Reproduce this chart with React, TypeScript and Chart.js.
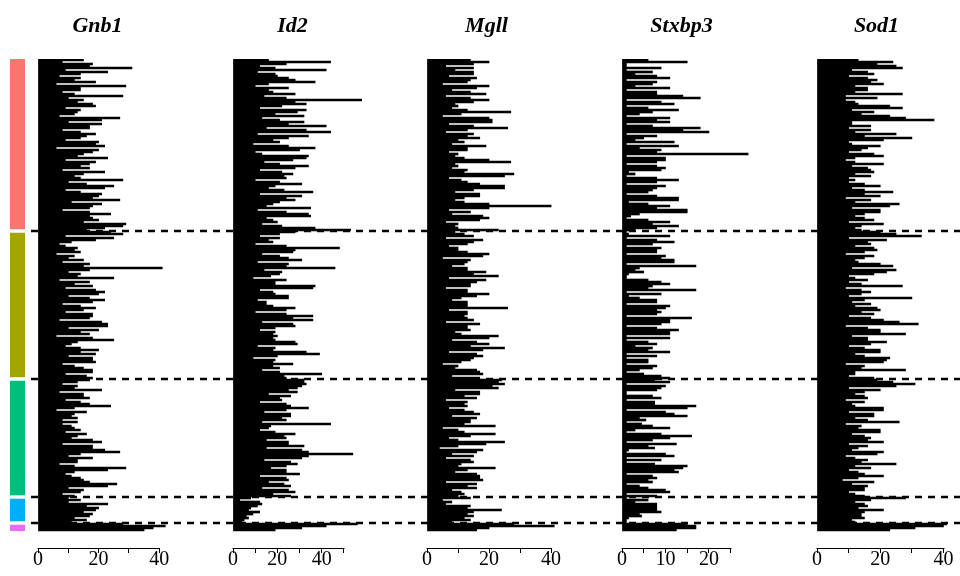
import { useEffect, useRef } from "react";
import { Chart, registerables } from "chart.js";

Chart.register(...registerables);

const genes = ["Gnb1", "Id2", "Mgll", "Stxbp3", "Sod1"];
const groupSizes = [86, 74, 59, 13, 4];
const groupColors = ["#F8766D", "#A3A500", "#00BF7D", "#00B0F6", "#E76BF3"];
const axisMax = [42.9, 58.6, 41.9, 29.9, 41.1];
const tickStep = [10, 10, 10, 5, 10];

const gnb1 = [
  15, 8, 18, 17, 31, 9, 23, 14, 7, 14,
  12, 19, 6, 29, 14, 14, 8, 12, 28, 10,
  15, 13, 18, 19, 9, 14, 13, 12, 7, 27,
  21, 10, 21, 17, 17, 8, 14, 19, 16, 14,
  9, 20, 19, 22, 6, 20, 18, 15, 13, 23,
  9, 19, 17, 14, 17, 8, 22, 15, 12, 14,
  28, 10, 16, 25, 22, 9, 14, 21, 20, 18,
  27, 11, 21, 18, 17, 8, 17, 24, 17, 18,
  20, 15, 29, 28, 22, 16,
  24, 28, 9, 25, 19, 11, 7, 9, 13, 12,
  14, 6, 12, 10, 15, 8, 17, 15, 41, 17,
  10, 14, 13, 25, 7, 17, 12, 18, 9, 19,
  22, 20, 10, 17, 22, 18, 8, 14, 19, 15,
  9, 18, 18, 17, 7, 21, 23, 23, 10, 20,
  14, 17, 6, 18, 25, 13, 11, 9, 14, 20,
  14, 19, 10, 18, 18, 19, 8, 12, 15, 18,
  18, 9, 16, 18,
  17, 13, 8, 13, 12, 21, 7, 15, 15, 17,
  9, 14, 17, 24, 12, 6, 16, 12, 11, 13,
  8, 13, 8, 11, 12, 14, 9, 16, 13, 11,
  18, 21, 8, 18, 18, 22, 27, 14, 10, 18,
  13, 13, 7, 12, 29, 23, 12, 9, 11, 14,
  15, 17, 26, 23, 10, 15, 14, 8, 12,
  10, 14, 10, 23, 16, 20, 19, 15, 18, 17, 12, 16, 11,
  28, 42, 38, 35,
];

const id2 = [
  16, 44, 24, 12, 19, 42, 11, 19, 20, 25,
  28, 37, 16, 10, 25, 16, 18, 28, 14, 24,
  58, 28, 33, 22, 12, 33, 29, 19, 32, 13,
  21, 32, 25, 42, 15, 33, 44, 11, 34, 25,
  18, 21, 9, 25, 37, 30, 10, 13, 34, 33,
  27, 14, 21, 34, 28, 12, 22, 27, 23, 24,
  10, 21, 31, 19, 16, 23, 36, 12, 31, 24,
  28, 21, 18, 15, 35, 11, 24, 34, 35, 15,
  18, 20, 13, 22, 37, 53,
  28, 21, 12, 21, 16, 18, 10, 24, 48, 28,
  27, 13, 21, 25, 31, 11, 25, 24, 46, 14,
  22, 21, 17, 9, 24, 19, 19, 37, 36, 12,
  18, 19, 25, 25, 11, 15, 15, 18, 28, 24,
  10, 24, 36, 27, 36, 13, 27, 28, 19, 12,
  19, 18, 20, 18, 19, 28, 29, 11, 19, 18,
  33, 39, 20, 9, 19, 18, 27, 18, 21, 13,
  21, 40, 23, 24,
  32, 32, 33, 31, 29, 25, 29, 16, 26, 21,
  22, 12, 24, 26, 34, 24, 14, 26, 26, 22,
  24, 13, 44, 17, 16, 12, 19, 28, 23, 24,
  15, 25, 25, 32, 15, 31, 34, 54, 34, 31,
  14, 26, 29, 24, 17, 24, 24, 30, 12, 24,
  25, 16, 23, 26, 13, 25, 28, 18, 26,
  8, 3, 12, 13, 11, 8, 7, 12, 9, 6, 7, 5, 4,
  56, 42, 31, 19,
];

const mgll = [
  14, 20, 15, 6, 15, 9, 15, 15, 7, 16,
  14, 13, 5, 20, 16, 8, 14, 19, 6, 14,
  20, 15, 9, 10, 8, 13, 27, 11, 5, 20,
  21, 21, 7, 15, 26, 13, 6, 15, 13, 17,
  10, 12, 8, 19, 13, 13, 7, 10, 9, 12,
  20, 27, 9, 10, 8, 13, 12, 28, 25, 7,
  11, 13, 17, 25, 25, 15, 9, 17, 17, 12,
  9, 12, 20, 40, 20, 7, 14, 8, 18, 20,
  17, 6, 10, 9, 10, 23,
  9, 12, 15, 6, 18, 15, 13, 7, 10, 10,
  13, 20, 18, 5, 14, 13, 12, 8, 13, 13,
  19, 15, 23, 7, 19, 16, 14, 14, 6, 13,
  13, 20, 16, 11, 8, 13, 13, 13, 26, 7,
  13, 13, 12, 13, 15, 6, 17, 13, 13, 14,
  9, 11, 23, 20, 8, 16, 20, 14, 25, 18,
  7, 16, 18, 15, 14, 11, 5, 10, 9, 16,
  17, 18, 8, 17,
  24, 23, 25, 21, 23, 9, 17, 17, 12, 16,
  6, 13, 12, 13, 7, 12, 15, 17, 8, 16,
  14, 14, 12, 22, 5, 10, 12, 22, 14, 7,
  10, 25, 19, 10, 4, 18, 16, 8, 15, 6,
  14, 15, 11, 10, 22, 13, 9, 16, 17, 17,
  18, 6, 16, 13, 16, 8, 11, 12, 10,
  14, 5, 8, 6, 14, 13, 24, 15, 13, 15, 12, 14, 8,
  28, 41, 20, 16,
];

const stxbp3 = [
  6, 15, 1, 1, 9, 1, 7, 3, 8, 11,
  1, 8, 7, 3, 11, 1, 8, 8, 14, 18,
  1, 9, 12, 1, 6, 13, 7, 4, 1, 11,
  8, 11, 1, 7, 18, 14, 20, 1, 8, 5,
  3, 12, 1, 13, 4, 9, 8, 29, 1, 10,
  10, 8, 1, 8, 10, 9, 1.5, 3, 1, 8,
  13, 8, 1, 10, 8, 7, 6, 1, 8, 13,
  13, 1.5, 6, 11, 8, 15, 15, 4, 2, 1,
  6, 11, 7, 13, 8, 3,
  1, 1.5, 11, 1, 8, 12, 7, 1, 9, 8,
  8, 1, 10, 9, 12, 12, 1, 17, 4, 3,
  5, 1.5, 1, 1, 6, 9, 11, 7, 6, 17,
  1, 9, 1.5, 4, 8, 8, 1, 11, 10, 8,
  9, 8, 1, 16, 11, 11, 9, 1, 8, 13,
  11, 11, 1, 11, 1, 6, 8, 3, 7, 6,
  11, 1, 8, 1, 6, 6, 1, 8, 7, 4,
  1, 5, 9, 11,
  7.5, 11, 1, 10, 9, 8, 1, 1, 7, 9,
  1, 7.5, 7.5, 17, 15, 1, 10, 12, 15, 4,
  5.5, 1, 4.5, 7, 11, 3, 1, 9, 16, 11,
  7, 1, 12.5, 6, 7.5, 1.5, 1, 10, 12, 1,
  9, 1, 7.5, 15, 14, 12, 13, 1, 7, 8,
  6, 7, 1, 4, 6, 10, 11, 1, 8,
  1, 6, 3, 8, 8, 8, 8, 9, 4, 4.5, 1.5, 1, 1,
  15, 17, 17, 12.5,
];

const sod1 = [
  13, 24, 19, 25, 27, 11, 16, 18, 10, 16,
  19, 17, 21, 12, 16, 16, 12, 27, 9, 19,
  9, 12, 13, 23, 27, 11, 18, 14, 23, 28,
  37, 11, 11, 17, 10, 17, 12, 25, 15, 30,
  21, 10, 11, 20, 16, 14, 10, 18, 21, 12,
  9, 12, 21, 11, 16, 17, 18, 12, 17, 10,
  12, 10, 15, 20, 11, 15, 24, 15, 20, 9,
  17, 12, 26, 23, 11, 20, 20, 15, 12, 15,
  18, 10, 21, 14, 12, 14,
  20, 25, 33, 10, 22, 16, 17, 12, 18, 19,
  15, 9, 18, 15, 12, 13, 20, 24, 11, 25,
  22, 18, 10, 12, 16, 10, 14, 27, 9, 14,
  17, 14, 10, 30, 15, 11, 17, 12, 19, 20,
  14, 18, 10, 17, 21, 26, 32, 9, 16, 20,
  20, 28, 11, 16, 16, 22, 17, 10, 15, 20,
  20, 12, 15, 23, 22, 21, 9, 15, 14, 28,
  12, 12, 10, 18,
  19, 24, 31, 25, 10, 20, 15, 12, 15, 16,
  9, 15, 11, 12, 21, 21, 10, 18, 18, 12,
  16, 26, 9, 14, 13, 20, 20, 11, 15, 17,
  16, 21, 10, 16, 13, 11, 21, 19, 9, 12,
  16, 14, 25, 12, 17, 10, 13, 15, 21, 13,
  8, 18, 11, 16, 15, 15, 10, 12, 15,
  28, 17, 12, 15, 16, 13, 21, 15, 14, 14, 15, 11, 12,
  41, 40, 31, 23,
];

const geneValues = [gnb1, id2, mgll, stxbp3, sod1];

const PANEL_LEFT = [0, 195, 389, 584, 779];
const PANEL_W = 196;
const H = 576;
const DASH = [7, 6];
const DASH_START = 31;

function boundaries(): number[] {
  const out: number[] = [];
  let acc = 0;
  for (let g = 0; g < groupSizes.length - 1; g++) {
    acc += groupSizes[g];
    out.push(acc);
  }
  return out;
}

function Panel({ index }: { index: number }) {
  const ref = useRef<HTMLCanvasElement | null>(null);
  useEffect(() => {
    if (!ref.current) return;
    const values = geneValues[index];
    const step = tickStep[index];
    const left = PANEL_LEFT[index];
    const bounds = boundaries();
    const total = groupSizes.reduce((a, b) => a + b, 0);

    const dashPlugin = {
      id: "groupDash",
      afterDatasetsDraw(chart: any) {
        const ctx = chart.ctx;
        const ys = chart.scales.y;
        const x0 = index === 0 ? DASH_START : 0;
        const period = DASH[0] + DASH[1];
        ctx.save();
        ctx.strokeStyle = "#000";
        ctx.lineWidth = 2.5;
        ctx.setLineDash(DASH);
        ctx.lineDashOffset = (((left + x0 - DASH_START) % period) + period) % period;
        for (const b of bounds) {
          const y = ys.getPixelForValue(b - 0.5);
          ctx.beginPath();
          ctx.moveTo(x0, y);
          ctx.lineTo(chart.width, y);
          ctx.stroke();
        }
        ctx.restore();
      },
    };

    const axisPlugin = {
      id: "axisLine",
      afterDraw(chart: any) {
        const ctx = chart.ctx;
        const xs = chart.scales.x;
        const ticks = xs.ticks;
        if (!ticks.length) return;
        const y = Math.round(xs.top) + 0.5;
        const a = Math.round(xs.getPixelForValue(ticks[0].value)) - 0.5;
        const b = Math.round(xs.getPixelForValue(ticks[ticks.length - 1].value)) + 0.5;
        ctx.save();
        ctx.strokeStyle = "#000";
        ctx.lineWidth = 1;
        ctx.beginPath();
        ctx.moveTo(a, y);
        ctx.lineTo(b, y);
        ctx.stroke();
        ctx.restore();
      },
    };

    const chart = new Chart(ref.current, {
      type: "bar",
      data: {
        datasets: [
          {
            data: values.map((v, i) => ({ x: v, y: i })),
            backgroundColor: "#000",
            borderWidth: 0,
            barPercentage: 1,
            categoryPercentage: 1,
          },
        ],
      },
      options: {
        indexAxis: "y",
        responsive: false,
        animation: false,
        events: [],
        layout: { padding: { left: 27, right: 28, top: 0, bottom: 9 } },
        plugins: {
          legend: { display: false },
          tooltip: { enabled: false },
          title: {
            display: true,
            text: genes[index],
            color: "#000",
            font: { family: "Liberation Serif", size: 22, weight: "bold", style: "italic", lineHeight: 1 },
            padding: { top: 15, bottom: 22 },
          },
        },
        scales: {
          x: {
            type: "linear",
            position: "bottom",
            min: 0,
            max: axisMax[index],
            ticks: {
              stepSize: step,
              includeBounds: false,
              autoSkip: false,
              maxRotation: 0,
              padding: -3,
              color: "#000",
              font: { family: "Liberation Serif", size: 20, lineHeight: 1 },
              callback: (v: any) => (Number(v) % (2 * step) === 0 ? String(v) : ""),
            },
            grid: { display: true, drawOnChartArea: false, drawTicks: true, tickLength: 5, color: "#000", lineWidth: 1 },
            border: { display: false },
          },
          y: {
            type: "linear",
            min: -0.5,
            max: total - 0.5 + 8.5,
            reverse: true,
            offset: false,
            ticks: { display: false },
            grid: { display: false, offset: false },
            border: { display: false },
            afterFit: (s: any) => {
              s.width = 11;
            },
          },
        },
      } as any,
      plugins: [dashPlugin, axisPlugin],
    });
    return () => chart.destroy();
  }, [index]);

  return (
    <canvas
      ref={ref}
      width={PANEL_W}
      height={H}
      style={{ position: "absolute", left: PANEL_LEFT[index], top: 0, width: PANEL_W, height: H }}
    />
  );
}

function GroupBar() {
  const ref = useRef<HTMLCanvasElement | null>(null);
  useEffect(() => {
    if (!ref.current) return;
    const total = groupSizes.reduce((a, b) => a + b, 0);
    const gap = 1.7;
    const chart = new Chart(ref.current, {
      type: "bar",
      data: {
        labels: ["cells"],
        datasets: groupSizes.map((n, g) => ({
          data: [n],
          backgroundColor: groupColors[g],
          borderColor: "#fff",
          borderSkipped: false,
          borderWidth: {
            top: g === 0 ? 0 : gap,
            bottom: g === groupSizes.length - 1 ? 0 : gap,
            left: 0,
            right: 0,
          },
          barPercentage: 1,
          categoryPercentage: 1,
          inflateAmount: 0,
        })),
      },
      options: {
        responsive: false,
        animation: false,
        events: [],
        layout: { padding: { left: 10, right: 5, top: 59, bottom: 45 } },
        plugins: { legend: { display: false }, tooltip: { enabled: false }, title: { display: false } },
        scales: {
          x: { display: false, stacked: true },
          y: { display: false, stacked: true, min: 0, max: total, reverse: true },
        },
      } as any,
    });
    return () => chart.destroy();
  }, []);
  return (
    <canvas
      ref={ref}
      width={30}
      height={H}
      style={{ position: "absolute", left: 0, top: 0, width: 30, height: H }}
    />
  );
}

export default function App() {
  return (
    <div style={{ position: "fixed", left: 0, top: 0, width: 960, height: H, background: "#fff", overflow: "hidden" }}>
      {genes.map((g, i) => (
        <Panel key={g} index={i} />
      ))}
      <GroupBar />
    </div>
  );
}
